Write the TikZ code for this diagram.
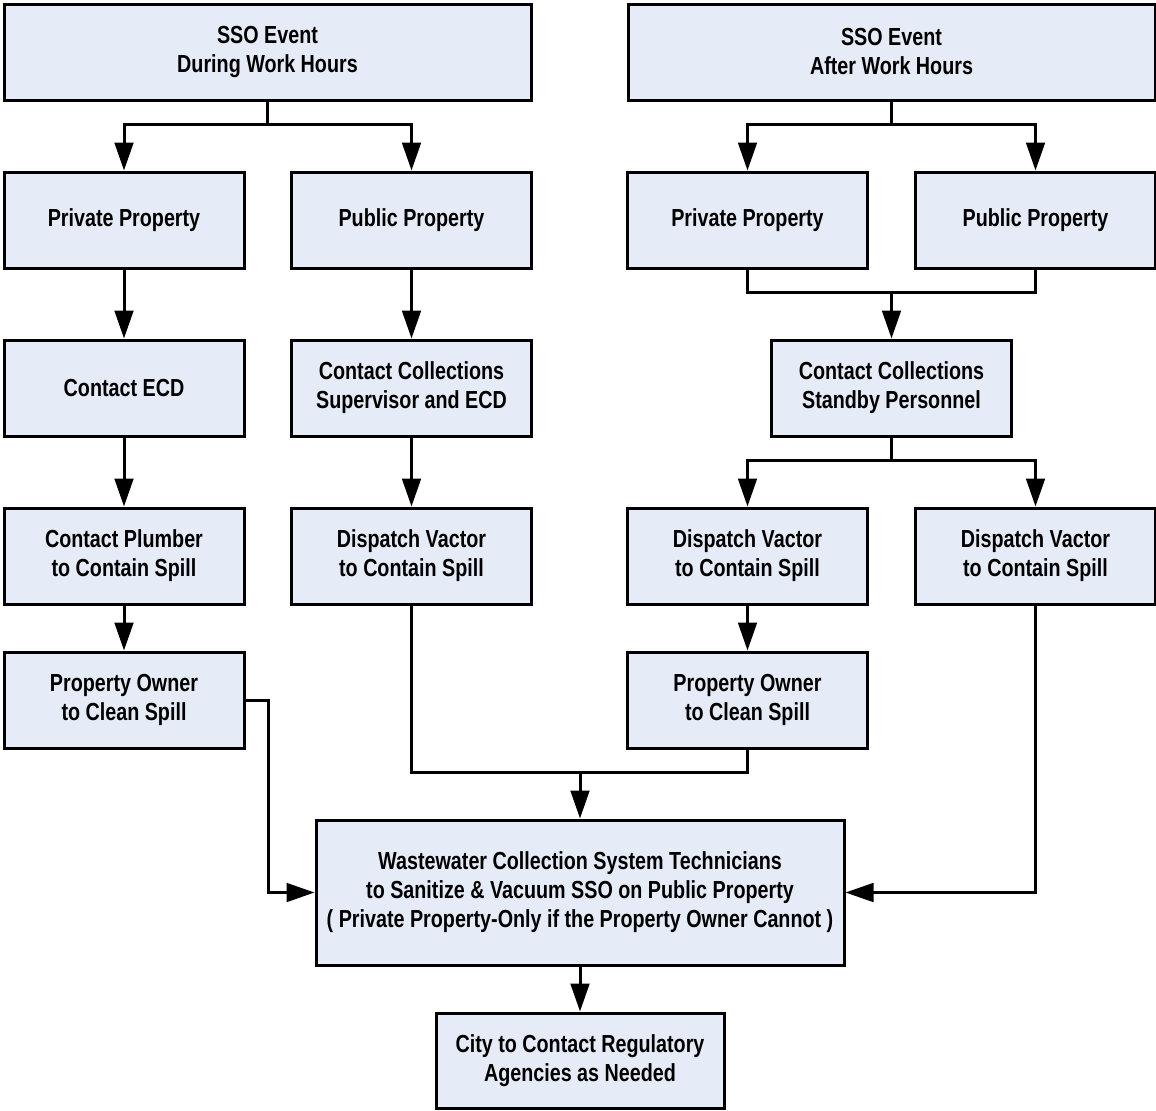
\documentclass[tikz,border=0pt]{standalone}
\usepackage{fontspec}
\setmainfont{Liberation Sans}[FakeStretch=0.8]
\usetikzlibrary{arrows.meta}
\definecolor{boxfill}{RGB}{230,236,247}
\begin{document}
\begin{tikzpicture}[x=0.75pt,y=-0.75pt,
  box/.style={draw=black, line width=2.25pt, fill=boxfill, align=center,
    inner sep=0pt, font=\fontsize{18.5}{21.75}\selectfont\bfseries},
  wide/.style={box, minimum width=395.25pt, minimum height=72pt},
  std/.style={box, minimum width=180pt, minimum height=72pt},
  line/.style={draw=black, line width=2.25pt},
  arr/.style={line, -{Triangle[length=21pt, width=14pt]}}]
\useasboundingbox (0,0) rectangle (1156,1110);

% event boxes
\node[wide] (top1) at (267.5,52) {SSO Event\\During Work Hours};
\node[wide] (top2) at (891.5,52) {SSO Event\\After Work Hours};

% property type
\node[std] (pp1)  at (124,220)    {Private Property};
\node[std] (pub1) at (411.5,220)  {Public Property};
\node[std] (pp2)  at (747.5,220)  {Private Property};
\node[std] (pub2) at (1035.5,220) {Public Property};

% contacts
\node[std] (ecd) at (124,388)   {Contact ECD};
\node[std] (cc1) at (411.5,388) {Contact Collections\\Supervisor and ECD};
\node[std] (cc2) at (891.5,388) {Contact Collections\\Standby Personnel};

% containment
\node[std] (plb) at (124,556)    {Contact Plumber\\to Contain Spill};
\node[std] (dv1) at (411.5,556)  {Dispatch Vactor\\to Contain Spill};
\node[std] (dv2) at (747.5,556)  {Dispatch Vactor\\to Contain Spill};
\node[std] (dv3) at (1035.5,556) {Dispatch Vactor\\to Contain Spill};

% cleanup
\node[std] (own1) at (124,700)   {Property Owner\\to Clean Spill};
\node[std] (own2) at (747.5,700) {Property Owner\\to Clean Spill};

% final steps
\node[box, minimum width=396pt, minimum height=108.75pt] (ww) at (580,892.5)
  {Wastewater Collection System Technicians\\to Sanitize \& Vacuum SSO on Public Property\\( Private Property-Only if the Property Owner Cannot )};
\node[box, minimum width=216pt, minimum height=71.25pt] (city) at (580,1060.5)
  {City to Contact Regulatory\\Agencies as Needed};

% junction points
\coordinate (j1) at (267.5,124);
\coordinate (j2) at (891.5,124);
\coordinate (j3) at (891.5,292);
\coordinate (j4) at (891.5,460);
\coordinate (m)  at (580,772);
\coordinate (k1) at (268,892.5);

% during work hours
\draw[line] (top1.south) -- (j1);
\draw[arr] (j1) -| (pp1.north);
\draw[arr] (j1) -| (pub1.north);
\draw[arr] (pp1) -- (ecd);
\draw[arr] (ecd) -- (plb);
\draw[arr] (plb) -- (own1);
\draw[arr] (pub1) -- (cc1);
\draw[arr] (cc1) -- (dv1);

% after work hours
\draw[line] (top2.south) -- (j2);
\draw[arr] (j2) -| (pp2.north);
\draw[arr] (j2) -| (pub2.north);
\draw[line] (pp2.south) |- (j3);
\draw[line] (pub2.south) |- (j3);
\draw[arr] (j3) -- (cc2.north);
\draw[line] (cc2.south) -- (j4);
\draw[arr] (j4) -| (dv2.north);
\draw[arr] (j4) -| (dv3.north);
\draw[arr] (dv2) -- (own2);

% into the sanitizing step
\draw[line] (dv1.south) |- (m);
\draw[line] (own2.south) |- (m);
\draw[arr] (m) -- (ww.north);
\draw[arr] (own1.east) -| (k1) -- (ww.west);
\draw[arr] (dv3.south) |- (ww.east);
\draw[arr] (ww) -- (city);
\end{tikzpicture}
\end{document}
